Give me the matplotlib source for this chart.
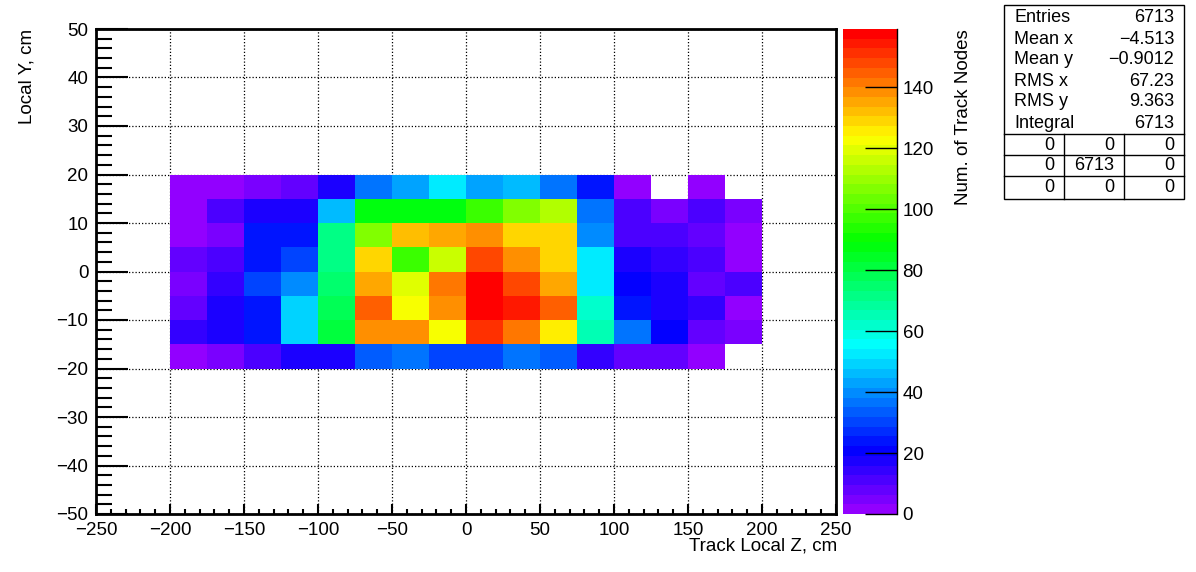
import numpy as np
import matplotlib
matplotlib.use("Agg")
import matplotlib.pyplot as plt
import colorsys
from matplotlib.colors import ListedColormap, Normalize
from matplotlib.ticker import MultipleLocator

plt.rcParams['font.family'] = ['Liberation Sans', 'DejaVu Sans']

# ---- data ----
x_edges = np.arange(-200, 201, 25)
y_edges = np.arange(-20, 21, 5)
nan = np.nan
# rows listed from bottom (y=-20..-15) to top (y=15..20)
row_m20 = [2, 5, 11, 17, 17, 33, 37, 30, 30, 37, 33, 14, 8, 8, 2, nan]
row_m15 = [14, 17, 24, 49, 81, 138, 138, 122, 151, 141, 125, 65, 37, 21, 8, 5]
row_m10 = [8, 17, 24, 49, 78, 145, 122, 138, 157, 154, 145, 62, 24, 17, 14, 2]
row_m05 = [5, 14, 30, 40, 75, 135, 119, 141, 157, 148, 135, 52, 21, 17, 8, 11]
row_p00 = [8, 11, 24, 30, 71, 129, 97, 116, 148, 138, 129, 52, 17, 14, 11, 2]
row_p05 = [2, 5, 24, 24, 71, 106, 132, 135, 138, 129, 129, 40, 11, 11, 8, 2]
row_p10 = [2, 11, 17, 17, 46, 87, 87, 87, 97, 106, 113, 37, 11, 5, 11, 5]
row_p15 = [2, 2, 5, 8, 17, 37, 43, 52, 43, 46, 37, 24, 2, nan, 2, nan]
z_max = 159.2
cbar_ticks = [0, 20, 40, 60, 80, 100, 120, 140]

stats_labels = ["Entries", "Mean x", "Mean y", "RMS x", "RMS y", "Integral"]
stats_values = ["6713", "\u22124.513", "\u22120.9012", "67.23", "9.363", "6713"]
overflow_table = [["0", "0", "0"], ["0", "6713", "0"], ["0", "0", "0"]]

Z = np.ma.masked_invalid(np.array([row_m20, row_m15, row_m10, row_m05,
                                   row_p00, row_p05, row_p10, row_p15], dtype=float))

# ROOT "pretty" palette: 50 colours, hue 280 -> 0
ncol = 50
pal = []
for i in range(ncol):
    hue = 280.0 - (i + 1) * (280.0 / ncol)
    pal.append(colorsys.hls_to_rgb(hue / 360.0, 0.5, 1.0))
cmap = ListedColormap(pal)
cmap.set_bad((1, 1, 1, 0))

FS = 13.5
W, H = 1196, 572
fig = plt.figure(figsize=(W / 100, H / 100), dpi=100)

def fx(px):
    return px / W

def fy(py):
    return 1 - py / H

ax_l, ax_r, ax_t, ax_b = 96, 836, 29, 514
ax = fig.add_axes([fx(ax_l), fy(ax_b), fx(ax_r - ax_l), (ax_b - ax_t) / H])
mesh = ax.pcolormesh(x_edges, y_edges, Z, cmap=cmap,
                     norm=Normalize(0, z_max), zorder=2, linewidth=0, antialiased=False)
ax.set_xlim(-250, 250)
ax.set_ylim(-50, 50)
ax.xaxis.set_major_locator(MultipleLocator(50))
ax.xaxis.set_minor_locator(MultipleLocator(10))
ax.yaxis.set_major_locator(MultipleLocator(10))
ax.yaxis.set_minor_locator(MultipleLocator(2))
ax.grid(True, which='major', color='black', linestyle=(0, (1, 1.6)), linewidth=0.9, zorder=1)
ax.set_axisbelow(True)
ax.tick_params(axis='x', which='major', direction='in', length=7.5, width=1.5,
               labelsize=FS, pad=5.5)
ax.tick_params(axis='x', which='minor', direction='in', length=3.6, width=1.5)
ax.tick_params(axis='y', which='major', direction='in', length=23, width=1.5,
               labelsize=FS, pad=5.5)
ax.tick_params(axis='y', which='minor', direction='in', length=11.5, width=1.5)
for s in ax.spines.values():
    s.set_linewidth(2)
    s.set_zorder(5)

# colour bar
cax = fig.add_axes([fx(843), fy(ax_b), fx(897 - 843), (ax_b - ax_t) / H])
cb = fig.colorbar(mesh, cax=cax, ticks=cbar_ticks)
cb.outline.set_visible(False)
cax.tick_params(which='major', direction='in', length=23, width=1.0,
                labelsize=FS, pad=4, right=True, left=False)
cax.minorticks_off()
cax.plot([1, 1], [0, 1], transform=cax.transAxes, color='black', lw=1.0, clip_on=False)

# labels
fig.text(fx(27), fy(29), "Local Y, cm", rotation=90, ha='center', va='top', fontsize=FS)
fig.text(fx(837), fy(546), "Track Local Z, cm", ha='right', va='center', fontsize=FS)
fig.text(fx(963), fy(29), "Num. of Track Nodes", rotation=90, ha='center', va='top',
         fontsize=FS)

# stats box
bx0, bx1, by0, by1 = 1004, 1184, 5, 199
fig.patches.append(plt.Rectangle((fx(bx0), fy(by1)), fx(bx1 - bx0), (by1 - by0) / H,
                                 transform=fig.transFigure, fill=True, facecolor='white',
                                 edgecolor='black', linewidth=1.0))
SFS = 13
row_y = [18, 39, 60, 81, 102, 123]
for lab, val, yy in zip(stats_labels, stats_values, row_y):
    fig.text(fx(1014), fy(yy), lab, ha='left', va='center', fontsize=SFS)
    fig.text(fx(1174), fy(yy), val, ha='right', va='center', fontsize=SFS)
for yy in [134, 155, 176]:
    fig.add_artist(plt.Line2D([fx(bx0), fx(bx1)], [fy(yy), fy(yy)],
                              transform=fig.transFigure, color='black', lw=1.0))
for xx in [1064, 1124]:
    fig.add_artist(plt.Line2D([fx(xx), fx(xx)], [fy(134), fy(by1)],
                              transform=fig.transFigure, color='black', lw=1.0))
cell_right = [1054, 1114, 1174]
tab_y = [145, 166, 188]
for r, yy in enumerate(tab_y):
    for c, xx in enumerate(cell_right):
        fig.text(fx(xx), fy(yy), overflow_table[r][c], ha='right', va='center', fontsize=SFS)

fig.savefig("out.png", dpi=100)
